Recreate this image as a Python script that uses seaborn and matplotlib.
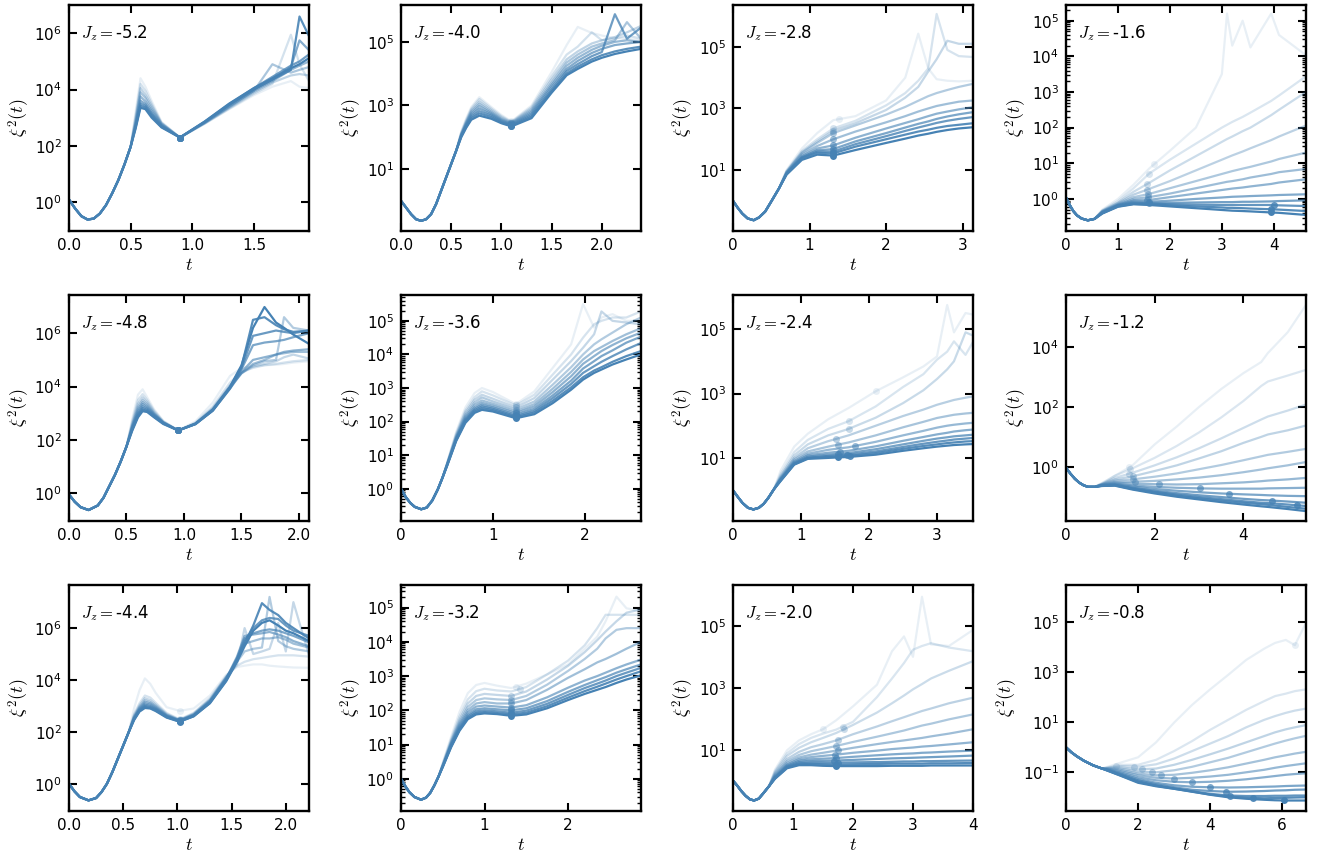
import numpy as np
import matplotlib
matplotlib.use("Agg")
import matplotlib.pyplot as plt
import seaborn as sns
from matplotlib.ticker import FixedLocator, NullLocator, LogLocator, MultipleLocator, NullFormatter

# ------------------------------------------------------------------
# DATA  (values are log10 of xi^2(t); curves ordered lightest -> darkest)
# each curve = shared early part P_x + its own tail; D_x = time of the dot on each curve
# ------------------------------------------------------------------

# Jz = -5.2
T_A = [0, 0.05, 0.1, 0.15, 0.2, 0.25, 0.3, 0.35, 0.4, 0.45, 0.5,
       0.54, 0.58, 0.62, 0.67, 0.75, 0.9, 1.1, 1.3, 1.5, 1.65, 1.8, 1.87, 1.947]
P_A = [0.08, -0.24, -0.51, -0.63, -0.6, -0.42, -0.12, 0.3, 0.77, 1.33, 1.96]
C_A = [
    [3.2, 4.4, 4.1, 3.6, 2.85, 2.29, 2.78, 3.3, 3.8, 4.1, 4.3, 4.1, 4.05],
    [3.05, 4.2, 3.95, 3.5, 2.82, 2.29, 2.78, 3.32, 3.85, 4.2, 5.95, 4.9, 4.3],
    [2.95, 4.05, 3.8, 3.42, 2.8, 2.29, 2.8, 3.35, 3.9, 4.25, 4.5, 4.55, 4.5],
    [2.85, 3.9, 3.7, 3.33, 2.78, 2.29, 2.8, 3.38, 3.95, 4.9, 4.6, 4.7, 4.8],
    [2.78, 3.75, 3.57, 3.25, 2.75, 2.29, 2.82, 3.4, 3.95, 4.3, 4.7, 4.85, 5.0],
    [2.72, 3.6, 3.48, 3.17, 2.72, 2.29, 2.83, 3.45, 4.0, 4.35, 4.8, 5.75, 5.4],
    [2.68, 3.5, 3.42, 3.12, 2.7, 2.29, 2.85, 3.48, 4.05, 4.45, 4.85, 5.0, 5.25],
    [2.64, 3.42, 3.36, 3.06, 2.67, 2.29, 2.84, 3.45, 4.0, 4.35, 4.7, 6.6, 5.9],
    [2.6, 3.35, 3.3, 3.0, 2.65, 2.29, 2.86, 3.5, 4.05, 4.4, 4.76, 4.9, 5.12],
]
D_A = [0.9] * 9

# Jz = -4.0
T_B = [0, 0.05, 0.1, 0.15, 0.2, 0.25, 0.3, 0.35, 0.4, 0.45, 0.5, 0.55,
       0.6, 0.65, 0.7, 0.78, 0.9, 1.0, 1.1, 1.3, 1.5, 1.65, 1.76, 1.9, 2.0, 2.13, 2.25, 2.39]
P_B = [0.0, -0.21, -0.42, -0.58, -0.63, -0.58, -0.42, -0.1, 0.32, 0.74, 1.16, 1.58]
C_B = [
    [2.18, 2.6, 2.95, 3.26, 2.95, 2.7, 2.5, 3.0, 4.05, 4.9, 5.47, 5.28, 5.2, 5.12, 5.1, 5.05],
    [2.15, 2.55, 2.9, 3.2, 2.9, 2.66, 2.48, 2.95, 3.92, 4.6, 4.85, 5.3, 5.05, 5.1, 5.2, 5.1],
    [2.12, 2.5, 2.85, 3.12, 2.85, 2.62, 2.46, 2.9, 3.82, 4.45, 4.7, 4.95, 5.05, 5.15, 5.3, 5.5],
    [2.1, 2.47, 2.8, 3.05, 2.8, 2.58, 2.44, 2.85, 3.72, 4.35, 4.6, 4.85, 4.95, 5.05, 5.62, 5.1],
    [2.08, 2.43, 2.75, 2.98, 2.76, 2.55, 2.42, 2.8, 3.65, 4.25, 4.5, 4.75, 4.88, 5.0, 5.05, 5.0],
    [2.06, 2.4, 2.7, 2.9, 2.72, 2.52, 2.4, 2.75, 3.58, 4.15, 4.4, 4.65, 4.78, 4.9, 4.95, 5.0],
    [2.04, 2.36, 2.65, 2.82, 2.68, 2.49, 2.38, 2.7, 3.5, 4.08, 4.3, 4.55, 4.68, 5.87, 5.1, 5.45],
    [2.02, 2.33, 2.6, 2.75, 2.63, 2.46, 2.36, 2.65, 3.45, 4.0, 4.22, 4.45, 4.58, 4.7, 4.78, 4.85],
    [2.0, 2.3, 2.55, 2.68, 2.58, 2.44, 2.34, 2.6, 3.4, 3.95, 4.15, 4.38, 4.5, 4.62, 4.7, 4.78],
]
D_B = [1.1] * 9

# Jz = -2.8
T_C = [0, 0.06, 0.12, 0.19, 0.27, 0.34, 0.42, 0.5, 0.6,
       0.7, 0.9, 1.1, 1.31, 1.6, 2.0, 2.25, 2.42, 2.55, 2.66, 2.8, 2.95, 3.135]
P_C = [0.0, -0.22, -0.41, -0.57, -0.63, -0.54, -0.35, -0.02, 0.4]
C_C = [
    [1.0, 1.7, 2.2, 2.62, 2.75, 3.26, 4.0, 5.43, 4.3, 3.95, 3.9, 3.88, 3.9],
    [0.97, 1.62, 2.0, 2.35, 2.6, 3.1, 3.5, 3.9, 4.3, 6.07, 4.9, 4.7, 4.67],
    [0.95, 1.58, 1.93, 2.28, 2.52, 2.95, 3.35, 3.7, 4.2, 4.6, 5.2, 5.1, 5.1],
    [0.94, 1.55, 1.88, 2.2, 2.45, 2.8, 3.05, 3.25, 3.4, 3.5, 3.6, 3.7, 3.8],
    [0.92, 1.5, 1.78, 2.0, 2.25, 2.55, 2.75, 2.9, 3.0, 3.08, 3.15, 3.22, 3.26],
    [0.9, 1.45, 1.7, 1.8, 2.05, 2.35, 2.53, 2.65, 2.75, 2.83, 2.9, 2.97, 3.04],
    [0.89, 1.42, 1.64, 1.68, 1.93, 2.2, 2.38, 2.5, 2.58, 2.66, 2.74, 2.81, 2.88],
    [0.88, 1.4, 1.6, 1.6, 1.84, 2.1, 2.27, 2.38, 2.46, 2.53, 2.6, 2.66, 2.72],
    [0.87, 1.38, 1.56, 1.54, 1.76, 2.0, 2.15, 2.25, 2.31, 2.37, 2.43, 2.47, 2.52],
    [0.85, 1.33, 1.5, 1.47, 1.65, 1.88, 2.02, 2.12, 2.18, 2.24, 2.3, 2.35, 2.39],
]
D_C = [1.38] + [1.31] * 9

# Jz = -1.6
T_D = [0, 0.07, 0.14, 0.21, 0.3, 0.42, 0.55,
       0.7, 1.0, 1.3, 1.6, 2.0, 2.5, 3.0, 3.1, 3.2, 3.4, 3.55, 3.95, 4.1, 4.62]
P_D = [0.04, -0.17, -0.34, -0.46, -0.55, -0.6, -0.56]
C_D = [
    [-0.3, 0.0, 0.4, 0.85, 1.35, 2.0, 3.5, 5.2, 4.3, 5.0, 4.25, 5.2, 4.6, 4.03],
    [-0.32, -0.06, 0.3, 0.71, 1.1, 1.55, 2.0, 2.08, 2.16, 2.3, 2.42, 2.75, 2.9, 3.44],
    [-0.33, -0.1, 0.2, 0.45, 0.8, 1.2, 1.6, 1.68, 1.75, 1.9, 2.0, 2.35, 2.5, 3.0],
    [-0.34, -0.12, 0.12, 0.28, 0.5, 0.8, 1.1, 1.16, 1.22, 1.33, 1.42, 1.65, 1.75, 2.06],
    [-0.35, -0.14, 0.05, 0.14, 0.3, 0.5, 0.7, 0.74, 0.78, 0.85, 0.9, 1.05, 1.12, 1.3],
    [-0.36, -0.16, 0.0, 0.05, 0.15, 0.3, 0.45, 0.48, 0.5, 0.55, 0.6, 0.7, 0.75, 0.84],
    [-0.37, -0.17, -0.04, -0.03, 0.05, 0.15, 0.25, 0.27, 0.29, 0.32, 0.35, 0.42, 0.46, 0.55],
    [-0.38, -0.18, -0.07, -0.08, -0.05, 0.0, 0.04, 0.05, 0.06, 0.07, 0.08, 0.1, 0.11, 0.13],
    [-0.39, -0.19, -0.1, -0.11, -0.11, -0.1, -0.09, -0.09, -0.09, -0.08, -0.08, -0.07, -0.06, -0.04],
    [-0.4, -0.2, -0.12, -0.13, -0.15, -0.16, -0.17, -0.17, -0.17, -0.17, -0.17, -0.17, -0.18, -0.2],
    [-0.4, -0.21, -0.14, -0.15, -0.18, -0.21, -0.24, -0.25, -0.25, -0.26, -0.27, -0.29, -0.3, -0.34],
    [-0.41, -0.22, -0.15, -0.17, -0.21, -0.26, -0.31, -0.32, -0.33, -0.34, -0.35, -0.38, -0.39, -0.45],
]
D_D = [1.7, 1.6, 1.55, 1.56, 1.57, 1.58, 1.55, 1.6, 1.6, 4.0, 3.95, 3.95]

# Jz = -4.8
T_E = [0, 0.05, 0.1, 0.17, 0.25, 0.3, 0.35, 0.4, 0.45, 0.5,
       0.55, 0.6, 0.64, 0.68, 0.74, 0.82, 0.95, 1.1, 1.25, 1.4, 1.5, 1.6, 1.7, 1.8, 1.87, 1.95, 2.087]
P_E = [-0.04, -0.31, -0.51, -0.62, -0.45, -0.16, 0.27, 0.7, 1.2, 1.76]
C_E = [
    [2.8, 3.7, 3.9, 3.6, 3.15, 2.72, 2.36, 2.7, 3.4, 4.4, 4.7, 4.75, 4.8, 4.82, 4.85, 4.9, 4.95],
    [2.7, 3.5, 3.72, 3.5, 3.1, 2.7, 2.36, 2.65, 3.25, 4.15, 4.55, 4.7, 4.8, 4.85, 4.9, 4.95, 5.0],
    [2.62, 3.36, 3.6, 3.42, 3.05, 2.68, 2.36, 2.63, 3.2, 4.05, 4.5, 4.75, 4.85, 4.95, 5.1, 5.2, 5.05],
    [2.56, 3.25, 3.5, 3.35, 3.0, 2.67, 2.36, 2.62, 3.15, 3.98, 4.5, 4.8, 4.95, 5.0, 6.6, 6.2, 6.1],
    [2.52, 3.16, 3.42, 3.28, 2.98, 2.66, 2.36, 2.6, 3.12, 3.94, 4.5, 4.85, 5.0, 5.2, 5.25, 5.3, 5.3],
    [2.48, 3.08, 3.35, 3.22, 2.95, 2.65, 2.36, 2.6, 3.1, 3.92, 4.55, 5.0, 5.1, 5.2, 5.3, 5.35, 5.4],
    [2.45, 3.0, 3.27, 3.17, 2.92, 2.64, 2.36, 2.6, 3.1, 3.93, 4.65, 5.55, 5.65, 5.7, 5.75, 5.85, 6.0],
    [2.42, 2.95, 3.2, 3.12, 2.9, 2.63, 2.36, 2.6, 3.1, 3.95, 4.7, 5.9, 6.0, 6.1, 6.05, 6.0, 6.1],
    [2.38, 2.9, 3.14, 3.08, 2.87, 2.62, 2.36, 2.6, 3.12, 3.98, 4.75, 6.5, 6.6, 6.3, 6.15, 6.05, 6.1],
    [2.35, 2.85, 3.08, 3.05, 2.85, 2.6, 2.36, 2.62, 3.15, 4.0, 4.8, 6.2, 6.98, 6.4, 6.2, 5.95, 5.6],
]
D_E = [0.95] * 10

# Jz = -3.6
T_F = [0, 0.05, 0.1, 0.15, 0.22, 0.28, 0.34, 0.4, 0.45,
       0.5, 0.6, 0.7, 0.8, 0.88, 1.0, 1.25, 1.45, 1.65, 1.85, 1.98, 2.1, 2.18, 2.3, 2.45, 2.61]
P_F = [0.0, -0.24, -0.42, -0.54, -0.61, -0.56, -0.35, -0.02, 0.32]
C_F = [
    [0.76, 1.7, 2.42, 2.85, 3.0, 2.88, 2.52, 2.9, 3.6, 4.3, 5.5, 4.8, 5.1, 5.2, 5.0, 5.0],
    [0.75, 1.64, 2.33, 2.73, 2.9, 2.78, 2.48, 2.8, 3.4, 4.0, 4.5, 4.9, 5.0, 5.1, 5.1, 5.28],
    [0.74, 1.6, 2.27, 2.65, 2.8, 2.68, 2.42, 2.7, 3.25, 3.8, 4.2, 4.6, 5.28, 5.0, 4.95, 4.9],
    [0.73, 1.56, 2.2, 2.57, 2.72, 2.6, 2.36, 2.6, 3.1, 3.62, 4.0, 4.3, 4.45, 4.65, 4.9, 5.1],
    [0.72, 1.53, 2.15, 2.5, 2.63, 2.53, 2.3, 2.52, 2.98, 3.48, 3.85, 4.1, 4.22, 4.4, 4.6, 4.78],
    [0.71, 1.5, 2.1, 2.43, 2.56, 2.47, 2.25, 2.45, 2.88, 3.35, 3.72, 3.95, 4.1, 4.28, 4.48, 4.65],
    [0.7, 1.48, 2.06, 2.38, 2.5, 2.42, 2.2, 2.38, 2.78, 3.22, 3.58, 3.8, 3.95, 4.12, 4.35, 4.53],
    [0.69, 1.46, 2.03, 2.34, 2.45, 2.38, 2.16, 2.32, 2.7, 3.12, 3.45, 3.65, 3.78, 3.95, 4.15, 4.34],
    [0.68, 1.44, 2.0, 2.3, 2.4, 2.34, 2.13, 2.27, 2.62, 3.02, 3.32, 3.52, 3.62, 3.78, 3.95, 4.1],
    [0.67, 1.42, 1.96, 2.26, 2.35, 2.3, 2.1, 2.22, 2.55, 2.95, 3.25, 3.45, 3.55, 3.7, 3.85, 4.0],
]
D_F = [1.25] * 10

# Jz = -2.4
T_G = [0, 0.07, 0.14, 0.22, 0.3, 0.38, 0.45, 0.52, 0.6,
       0.7, 0.9, 1.1, 1.4, 1.7, 2.1, 2.5, 2.8, 3.0, 3.15, 3.25, 3.42, 3.53]
P_G = [-0.01, -0.21, -0.4, -0.55, -0.6, -0.55, -0.43, -0.24, 0.02]
C_G = [
    [0.6, 1.35, 1.75, 2.2, 2.55, 3.07, 3.5, 3.84, 4.15, 5.75, 4.9, 5.5, 5.45],
    [0.5, 1.18, 1.56, 1.9, 2.14, 2.6, 3.2, 3.6, 4.05, 4.3, 4.62, 4.2, 4.6],
    [0.44, 1.08, 1.42, 1.7, 1.9, 2.25, 2.7, 3.1, 3.45, 3.75, 4.0, 4.9, 4.8],
    [0.4, 1.0, 1.3, 1.52, 1.7, 2.0, 2.3, 2.5, 2.65, 2.74, 2.8, 2.87, 2.91],
    [0.37, 0.95, 1.2, 1.35, 1.48, 1.7, 1.95, 2.12, 2.24, 2.3, 2.34, 2.38, 2.4],
    [0.35, 0.9, 1.13, 1.25, 1.33, 1.5, 1.7, 1.84, 1.94, 2.0, 2.03, 2.07, 2.09],
    [0.33, 0.87, 1.08, 1.16, 1.22, 1.36, 1.53, 1.65, 1.73, 1.78, 1.82, 1.86, 1.88],
    [0.31, 0.84, 1.04, 1.1, 1.15, 1.27, 1.42, 1.53, 1.6, 1.64, 1.67, 1.7, 1.72],
    [0.3, 0.82, 1.01, 1.06, 1.1, 1.2, 1.34, 1.44, 1.5, 1.54, 1.57, 1.6, 1.62],
    [0.29, 0.8, 0.99, 1.03, 1.06, 1.15, 1.28, 1.37, 1.42, 1.46, 1.48, 1.51, 1.52],
    [0.28, 0.79, 0.97, 1.0, 1.03, 1.1, 1.22, 1.3, 1.35, 1.38, 1.4, 1.42, 1.43],
]
D_G = [2.1, 1.7, 1.7, 1.52, 1.55, 1.8, 1.57, 1.55, 1.68, 1.72, 1.55]

# Jz = -1.2
T_H = [0, 0.1, 0.2, 0.3, 0.4, 0.5, 0.65,
       0.8, 1.1, 1.5, 2.0, 2.5, 3.0, 3.5, 4.0, 4.4, 4.55, 5.0, 5.41]
P_H = [-0.03, -0.23, -0.4, -0.53, -0.62, -0.67, -0.67]
C_H = [
    [-0.6, -0.3, 0.05, 0.75, 1.35, 2.0, 2.6, 3.13, 3.5, 3.8, 4.5, 5.41],
    [-0.55, -0.3, -0.05, 0.3, 0.7, 1.15, 1.65, 2.2, 2.7, 2.85, 3.05, 3.24],
    [-0.57, -0.37, -0.2, 0.05, 0.32, 0.62, 0.95, 1.3, 1.58, 1.68, 1.88, 2.08],
    [-0.58, -0.42, -0.32, -0.14, 0.05, 0.28, 0.52, 0.8, 1.0, 1.08, 1.22, 1.38],
    [-0.59, -0.46, -0.42, -0.33, -0.22, -0.08, 0.06, 0.22, 0.35, 0.4, 0.5, 0.6],
    [-0.6, -0.5, -0.5, -0.47, -0.42, -0.36, -0.28, -0.18, -0.09, -0.05, 0.05, 0.16],
    [-0.61, -0.53, -0.56, -0.58, -0.59, -0.58, -0.55, -0.52, -0.48, -0.46, -0.42, -0.37],
    [-0.62, -0.56, -0.62, -0.67, -0.7, -0.72, -0.73, -0.73, -0.73, -0.72, -0.71, -0.7],
    [-0.62, -0.58, -0.66, -0.74, -0.8, -0.85, -0.89, -0.92, -0.94, -0.95, -0.97, -0.98],
    [-0.63, -0.6, -0.7, -0.8, -0.88, -0.95, -1.01, -1.07, -1.11, -1.12, -1.16, -1.2],
    [-0.63, -0.61, -0.72, -0.83, -0.93, -1.01, -1.08, -1.15, -1.2, -1.21, -1.26, -1.31],
    [-0.64, -0.62, -0.74, -0.86, -0.96, -1.05, -1.13, -1.2, -1.25, -1.27, -1.34, -1.4],
    [-0.64, -0.63, -0.76, -0.89, -1.0, -1.09, -1.18, -1.26, -1.32, -1.34, -1.41, -1.48],
]
D_H = [1.42, 1.45, 1.42, 1.5, 1.52, 1.55, 2.1, 3.03, 3.67, 4.65, 5.2, None, None]

# Jz = -4.4
T_I = [0, 0.05, 0.1, 0.18, 0.25, 0.3, 0.35, 0.4, 0.45, 0.5, 0.55,
       0.6, 0.65, 0.7, 0.75, 0.8, 0.9, 1.02, 1.15, 1.3, 1.45, 1.55, 1.62, 1.7, 1.78,
       1.85, 1.93, 2.0, 2.07, 2.214]
P_I = [0.0, -0.29, -0.51, -0.64, -0.55, -0.32, 0.0, 0.45, 0.96, 1.47, 1.98]
C_I = [
    [2.9, 3.6, 4.06, 3.85, 3.5, 2.95, 2.81, 2.9, 3.4, 4.2, 4.5, 4.55, 4.6, 4.6, 4.55, 4.52, 4.5, 4.48, 4.47],
    [2.68, 3.1, 3.4, 3.32, 3.12, 2.73, 2.48, 2.73, 3.3, 4.15, 4.55, 4.7, 4.8, 4.85, 4.9, 4.95, 4.95, 4.95, 4.9],
    [2.63, 3.02, 3.3, 3.22, 3.05, 2.69, 2.46, 2.7, 3.25, 4.12, 4.6, 6.0, 5.0, 5.1, 5.2, 6.2, 5.1, 7.0, 4.95],
    [2.59, 2.96, 3.22, 3.15, 3.0, 2.66, 2.45, 2.68, 3.22, 4.1, 4.7, 5.1, 5.2, 5.25, 7.2, 5.5, 5.3, 5.2, 5.1],
    [2.56, 2.92, 3.16, 3.1, 2.96, 2.64, 2.44, 2.66, 3.2, 4.08, 4.8, 5.4, 5.5, 5.6, 5.6, 5.65, 5.55, 5.4, 5.25],
    [2.53, 2.88, 3.1, 3.05, 2.92, 2.62, 2.43, 2.64, 3.17, 4.05, 4.9, 5.7, 5.75, 5.8, 5.85, 5.75, 5.65, 5.5, 5.3],
    [2.51, 2.85, 3.05, 3.0, 2.89, 2.6, 2.42, 2.63, 3.15, 4.02, 4.85, 5.6, 5.8, 5.9, 5.95, 5.9, 5.8, 5.7, 5.45],
    [2.49, 2.82, 3.0, 2.96, 2.86, 2.58, 2.41, 2.62, 3.14, 4.0, 4.8, 5.5, 6.0, 6.3, 6.39, 6.35, 6.1, 5.9, 5.7],
    [2.47, 2.8, 2.96, 2.92, 2.83, 2.57, 2.4, 2.6, 3.12, 3.98, 4.75, 5.4, 6.1, 6.96, 6.7, 6.5, 6.2, 6.0, 5.6],
    [2.45, 2.78, 2.92, 2.9, 2.8, 2.55, 2.39, 2.6, 3.1, 3.95, 4.7, 5.3, 5.9, 6.2, 6.3, 6.1, 5.9, 5.8, 5.5],
]
D_I = [1.02] * 10

# Jz = -3.2
T_J = [0, 0.05, 0.1, 0.16, 0.24, 0.3, 0.35, 0.4, 0.45,
       0.5, 0.6, 0.7, 0.8, 0.9, 1.0, 1.15, 1.32, 1.5, 1.75, 2.0, 2.2, 2.35, 2.45, 2.58, 2.7, 2.874]
P_J = [0.0, -0.21, -0.39, -0.53, -0.61, -0.55, -0.41, -0.19, 0.07]
C_J = [
    [0.47, 1.23, 1.95, 2.5, 2.74, 2.8, 2.72, 2.65, 2.78, 3.05, 3.34, 3.8, 4.15, 4.6, 5.32, 4.98, 4.9],
    [0.44, 1.16, 1.82, 2.32, 2.56, 2.63, 2.58, 2.55, 2.68, 3.05, 3.45, 3.9, 4.4, 4.79, 4.79, 4.79, 4.79],
    [0.42, 1.11, 1.73, 2.2, 2.42, 2.48, 2.45, 2.42, 2.55, 2.9, 3.3, 3.7, 4.05, 4.3, 4.6, 4.85, 4.95],
    [0.4, 1.07, 1.66, 2.1, 2.3, 2.35, 2.32, 2.3, 2.42, 2.75, 3.15, 3.5, 3.8, 4.1, 4.35, 4.4, 4.4],
    [0.39, 1.04, 1.6, 2.01, 2.2, 2.24, 2.2, 2.2, 2.3, 2.6, 2.95, 3.2, 3.4, 3.5, 3.65, 3.8, 4.0],
    [0.38, 1.01, 1.55, 1.94, 2.11, 2.14, 2.11, 2.08, 2.15, 2.38, 2.66, 2.87, 3.0, 3.1, 3.23, 3.34, 3.48],
    [0.37, 0.98, 1.5, 1.87, 2.03, 2.06, 2.03, 2.0, 2.06, 2.27, 2.54, 2.74, 2.88, 2.97, 3.1, 3.2, 3.34],
    [0.36, 0.96, 1.46, 1.82, 1.97, 2.0, 1.97, 1.93, 1.99, 2.19, 2.45, 2.65, 2.78, 2.87, 3.0, 3.1, 3.24],
    [0.35, 0.94, 1.43, 1.78, 1.92, 1.95, 1.92, 1.88, 1.93, 2.12, 2.37, 2.56, 2.69, 2.78, 2.9, 3.0, 3.14],
    [0.34, 0.92, 1.4, 1.74, 1.88, 1.91, 1.89, 1.84, 1.88, 2.06, 2.3, 2.48, 2.6, 2.68, 2.8, 2.9, 3.02],
]
D_J = [1.38, 1.42] + [1.32] * 8

# Jz = -2.0
T_K = [0, 0.07, 0.14, 0.21, 0.28, 0.35, 0.43, 0.5, 0.6,
       0.7, 0.9, 1.1, 1.3, 1.5, 1.72, 2.0, 2.4, 2.65, 2.85, 3.0, 3.15, 3.3, 3.6, 4.0]
P_K = [0.0, -0.16, -0.34, -0.49, -0.6, -0.64, -0.58, -0.42, -0.18]
C_K = [
    [0.36, 0.98, 1.3, 1.5, 1.66, 1.95, 2.4, 3.1, 4.18, 4.66, 4.0, 5.94, 4.4, 4.35, 4.87],
    [0.31, 0.88, 1.18, 1.38, 1.52, 1.65, 1.9, 2.7, 3.3, 3.8, 4.23, 4.35, 4.44, 4.3, 4.18],
    [0.27, 0.8, 1.06, 1.24, 1.38, 1.54, 1.8, 2.2, 2.5, 2.75, 2.95, 3.12, 3.3, 3.55, 3.86],
    [0.23, 0.7, 0.93, 1.08, 1.18, 1.3, 1.5, 1.75, 1.92, 2.05, 2.15, 2.25, 2.33, 2.5, 2.68],
    [0.19, 0.63, 0.83, 0.95, 1.03, 1.12, 1.25, 1.42, 1.53, 1.62, 1.7, 1.78, 1.84, 1.98, 2.14],
    [0.16, 0.57, 0.75, 0.84, 0.9, 0.97, 1.06, 1.18, 1.25, 1.3, 1.34, 1.38, 1.43, 1.52, 1.66],
    [0.13, 0.52, 0.69, 0.76, 0.8, 0.84, 0.9, 0.97, 1.02, 1.05, 1.07, 1.1, 1.12, 1.17, 1.24],
    [0.11, 0.49, 0.64, 0.69, 0.71, 0.73, 0.77, 0.82, 0.85, 0.87, 0.88, 0.9, 0.91, 0.94, 0.97],
    [0.09, 0.46, 0.6, 0.63, 0.64, 0.65, 0.67, 0.7, 0.72, 0.73, 0.74, 0.75, 0.76, 0.78, 0.81],
    [0.08, 0.44, 0.56, 0.58, 0.58, 0.58, 0.59, 0.6, 0.61, 0.62, 0.62, 0.63, 0.63, 0.64, 0.65],
    [0.07, 0.42, 0.53, 0.54, 0.53, 0.52, 0.53, 0.54, 0.55, 0.55, 0.55, 0.55, 0.56, 0.56, 0.57],
    [0.06, 0.4, 0.5, 0.5, 0.48, 0.47, 0.47, 0.47, 0.48, 0.48, 0.48, 0.48, 0.49, 0.49, 0.49],
]
D_K = [1.5, 1.83, 1.85, 1.75, 1.72, 1.75, 1.7, 1.72, 1.68, 1.75, 1.72, 1.72]

# Jz = -0.8
T_L = [0, 0.15, 0.3, 0.5, 0.75, 1.0,
       1.5, 2.0, 2.5, 3.0, 3.5, 4.0, 4.5, 5.0, 5.5, 5.8, 6.1, 6.35, 6.66]
P_L = [0.0, -0.2, -0.36, -0.54, -0.72, -0.85]
C_L = [
    [-0.62, -0.4, 0.2, 0.99, 1.7, 2.32, 2.9, 3.5, 3.95, 4.18, 4.3, 4.09, 4.98],
    [-0.7, -0.7, -0.5, -0.15, 0.25, 0.7, 1.1, 1.5, 1.85, 2.05, 2.15, 2.25, 2.32],
    [-0.75, -0.78, -0.68, -0.45, -0.15, 0.15, 0.45, 0.8, 1.1, 1.25, 1.38, 1.47, 1.55],
    [-0.8, -0.88, -0.85, -0.7, -0.5, -0.28, -0.05, 0.2, 0.45, 0.6, 0.72, 0.8, 0.89],
    [-0.85, -0.97, -1.0, -0.92, -0.78, -0.6, -0.42, -0.2, 0.02, 0.15, 0.27, 0.36, 0.46],
    [-0.9, -1.05, -1.12, -1.1, -1.02, -0.92, -0.8, -0.65, -0.5, -0.4, -0.32, -0.25, -0.18],
    [-0.95, -1.12, -1.22, -1.25, -1.22, -1.17, -1.1, -1.0, -0.9, -0.82, -0.75, -0.7, -0.64],
    [-1.0, -1.2, -1.32, -1.38, -1.4, -1.38, -1.34, -1.28, -1.2, -1.15, -1.1, -1.07, -1.04],
    [-1.04, -1.27, -1.42, -1.52, -1.58, -1.6, -1.61, -1.6, -1.58, -1.57, -1.55, -1.54, -1.53],
    [-1.07, -1.32, -1.48, -1.6, -1.7, -1.75, -1.78, -1.77, -1.75, -1.73, -1.72, -1.7, -1.69],
    [-1.1, -1.36, -1.52, -1.64, -1.76, -1.86, -1.93, -1.95, -1.95, -1.94, -1.94, -1.93, -1.93],
    [-1.12, -1.39, -1.54, -1.66, -1.78, -1.89, -1.97, -2.02, -2.04, -2.03, -2.02, -2.01, -2.0],
    [-1.13, -1.42, -1.56, -1.66, -1.77, -1.9, -2.0, -2.06, -2.1, -2.12, -2.13, -2.13, -2.13],
]
D_L = [6.35, 1.4, 1.9, 2.1, 2.4, 2.65, 3.0, 3.5, 4.0, 4.45, 4.55, 5.2, 6.05]

JZ_LABELS = ["-5.2", "-4.0", "-2.8", "-1.6",
             "-4.8", "-3.6", "-2.4", "-1.2",
             "-4.4", "-3.2", "-2.0", "-0.8"]

# axis settings per panel: x max, (log10 ylo, log10 yhi), labelled decades, x tick step
XMAX = [1.947, 2.39, 3.135, 4.62, 2.087, 2.61, 3.53, 5.41, 2.214, 2.874, 4.0, 6.66]
YLIM = [(-1.04, 7.01), (-0.95, 6.16), (-0.98, 6.36), (-0.90, 5.44),
        (-1.03, 7.43), (-0.96, 5.77), (-0.96, 6.06), (-1.81, 5.74),
        (-1.05, 7.66), (-0.94, 5.66), (-0.98, 6.32), (-2.55, 6.50)]
YDEC = [[0, 2, 4, 6], [1, 3, 5], [1, 3, 5], [0, 1, 2, 3, 4, 5],
        [0, 2, 4, 6], [0, 1, 2, 3, 4, 5], [1, 3, 5], [0, 2, 4],
        [0, 2, 4, 6], [0, 1, 2, 3, 4, 5], [1, 3, 5], [-1, 1, 3, 5]]
XSTEP = [0.5, 0.5, 1, 1, 0.5, 1, 1, 2, 0.5, 1, 1, 2]

PANELS = [(T_A, P_A, C_A, D_A), (T_B, P_B, C_B, D_B), (T_C, P_C, C_C, D_C), (T_D, P_D, C_D, D_D),
          (T_E, P_E, C_E, D_E), (T_F, P_F, C_F, D_F), (T_G, P_G, C_G, D_G), (T_H, P_H, C_H, D_H),
          (T_I, P_I, C_I, D_I), (T_J, P_J, C_J, D_J), (T_K, P_K, C_K, D_K), (T_L, P_L, C_L, D_L)]

# ------------------------------------------------------------------
sns.set_theme(style="ticks")
plt.rcParams.update({
    "font.family": ["DejaVu Sans"],
    "mathtext.fontset": "cm",
    "axes.edgecolor": "black",
    "axes.linewidth": 1.7,
    "axes.labelcolor": "black",
    "text.color": "black",
    "xtick.color": "black",
    "ytick.color": "black",
})

BLUE = "#4682b4"
FW, FH = 1325, 860
fig = plt.figure(figsize=(FW / 100, FH / 100), dpi=100)

LEFTS = [69, 401, 733, 1066]
TOPS = [5, 295, 585]
AW, AH = 240, 226

for k, (T, P, C, D) in enumerate(PANELS):
    r, c = divmod(k, 4)
    ax = fig.add_axes([LEFTS[c] / FW, 1 - (TOPS[r] + AH) / FH, AW / FW, AH / FH])
    n = len(C)
    alphas = np.linspace(0.12, 1.0, n)
    for i, tail in enumerate(C):
        v = np.array(P + tail, dtype=float)
        m = min(len(T), len(v))
        tt = np.array(T[:m], dtype=float)
        vv = v[:m]
        sns.lineplot(x=tt, y=10.0 ** vv, ax=ax, color=BLUE, alpha=alphas[i],
                     lw=1.6, estimator=None, sort=False)
        if D[i] is not None:
            vd = np.interp(D[i], tt, vv)
            ax.plot([D[i]], [10.0 ** vd], "o", color=BLUE, alpha=alphas[i],
                    ms=5, mec="none", zorder=3)
    ax.set_yscale("log")
    ax.set_xlim(0, XMAX[k])
    ax.set_ylim(10.0 ** YLIM[k][0], 10.0 ** YLIM[k][1])
    ax.yaxis.set_major_locator(FixedLocator([10.0 ** e for e in YDEC[k]]))
    if len(YDEC[k]) > 1 and YDEC[k][1] - YDEC[k][0] == 1:
        ax.yaxis.set_minor_locator(LogLocator(base=10, subs=np.arange(2, 10), numticks=100))
    else:
        ax.yaxis.set_minor_locator(NullLocator())
    ax.yaxis.set_minor_formatter(NullFormatter())
    ax.xaxis.set_major_locator(MultipleLocator(XSTEP[k]))
    ax.xaxis.set_minor_locator(NullLocator())
    ax.tick_params(which="major", direction="in", length=6, width=1.5,
                   top=True, right=True, labelsize=11, pad=5)
    ax.tick_params(which="minor", direction="in", length=3, width=1.0,
                   left=True, right=True)
    ax.set_xlabel(r"$t$", fontsize=13, labelpad=2)
    ax.set_ylabel(r"$\xi^2(t)$", fontsize=13, labelpad=2)
    ax.text(0.05, 0.875, r"$J_z=$" + JZ_LABELS[k], transform=ax.transAxes,
            fontsize=12, va="center", ha="left")
    for s in ax.spines.values():
        s.set_linewidth(1.7)
        s.set_color("black")

fig.savefig("out.png", dpi=100)
